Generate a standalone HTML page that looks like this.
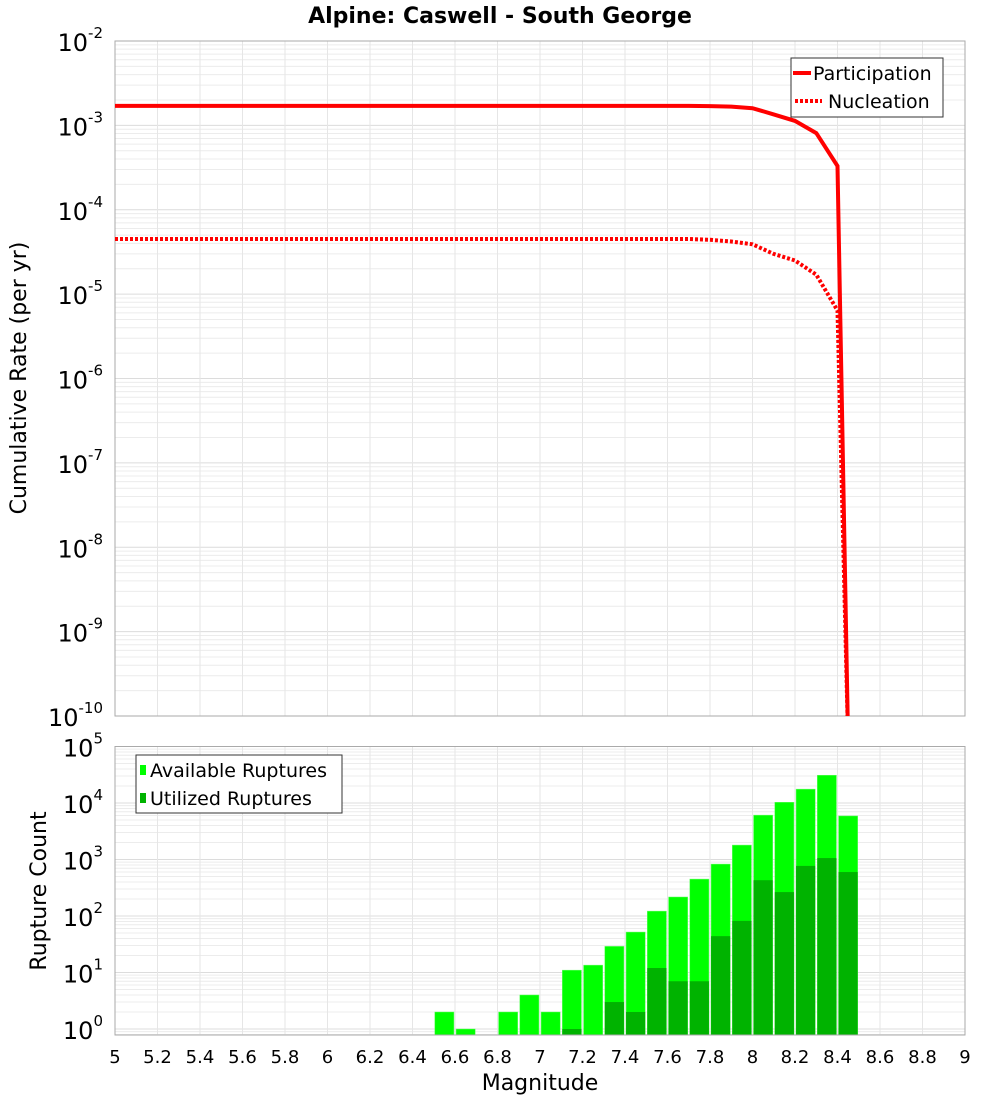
<!DOCTYPE html>
<html><head><meta charset="utf-8"><style>
body{margin:0;background:#fff;font-family:"Liberation Sans","DejaVu Sans",sans-serif}
svg text{font-family:"DejaVu Sans","Liberation Sans",sans-serif}
</style></head><body>
<svg id="c" width="1000" height="1100" xmlns="http://www.w3.org/2000/svg">
<text x="500" y="23" text-anchor="middle" font-size="22" font-weight="bold">Alpine: Caswell - South George</text>
<g id="topg"></g><g id="botg"></g>
</svg>
<script>
const mags=[5.0,5.5,6.0,6.5,7.0,7.5,7.7,7.8,7.9,8.0,8.1,8.2,8.3,8.4,8.45];
const participation=[1.7e-3,1.7e-3,1.7e-3,1.7e-3,1.7e-3,1.7e-3,1.7e-3,1.69e-3,1.67e-3,1.6e-3,1.35e-3,1.13e-3,8.1e-4,3.3e-4,5e-11];
const nucleation=[4.5e-5,4.5e-5,4.5e-5,4.5e-5,4.5e-5,4.5e-5,4.5e-5,4.4e-5,4.2e-5,3.9e-5,3.0e-5,2.5e-5,1.7e-5,6.4e-6,5e-11];
const binCenters=[6.55,6.65,6.75,6.85,6.95,7.05,7.15,7.25,7.35,7.45,7.55,7.65,7.75,7.85,7.95,8.05,8.15,8.25,8.35,8.45];
const available=[2,1,0,2,4,2,11,13.5,29,52,122,217,450,830,1800,6100,10300,17600,31000,5900];
const utilized=[0,0,0,0,0,0,1,0,3,2,12,7,7,44,82,430,265,770,1060,600];
const xTicks=[5,5.2,5.4,5.6,5.8,6,6.2,6.4,6.6,6.8,7,7.2,7.4,7.6,7.8,8,8.2,8.4,8.6,8.8,9];
const NS="http://www.w3.org/2000/svg";
const PL=115,PR=965;
const X=m=>PL+(m-5)/4*(PR-PL);
const T0=41,T1=716,B0=746.5,B1=1035;
const YT=v=>T0+(-2-Math.log10(v))*(T1-T0)/8;
const YB=v=>1029-Math.log10(v)*56.5;
function mk(p,tag,at,txt){const e=document.createElementNS(NS,tag);for(const k in at)e.setAttribute(k,at[k]);if(txt!==undefined)e.textContent=txt;p.appendChild(e);return e;}
const topG=document.getElementById('topg'),botG=document.getElementById('botg');
function grid(g,y0,y1,yf,dlo,dhi){
  for(let d=dlo;d<dhi;d++)for(let k=1;k<10;k++){const y=yf(k*Math.pow(10,d));if(y<y0-0.5||y>y1+0.5)continue;
    const l=mk(g,'line',{x1:PL,x2:PR,y1:y,y2:y,stroke:k==1?'#dcdcdc':'#ececec','stroke-width':1});
    }
  xTicks.forEach(t=>{const l=mk(g,'line',{x1:X(t),x2:X(t),y1:y0,y2:y1,stroke:'#e6e6e6','stroke-width':1});
    });
}
grid(topG,T0,T1,YT,-10,-2);
grid(botG,B0,B1,YB,-1,5);
let f=mk(topG,'rect',{x:PL,y:T0,width:PR-PL,height:T1-T0,fill:'none',stroke:'#aaa'});

for(let e=-2;e>=-10;e--){const y=YT(Math.pow(10,e));
  const t=mk(topG,'text',{x:103,y:y+10,'text-anchor':'end','font-size':24});
  
  mk(t,'tspan',{},'10');mk(t,'tspan',{dy:-13,'font-size':15},String(e));}
let yt=mk(topG,'text',{transform:'translate(26,378) rotate(-90)','text-anchor':'middle','font-size':22},'Cumulative Rate (per yr)');

const cp=document.createElementNS(NS,'clipPath');cp.setAttribute('id','cl');mk(cp,'rect',{x:PL,y:T0,width:PR-PL,height:T1-T0});topG.appendChild(cp);
function line(vals,dash,name){const d=mags.map((m,i)=>(i?'L':'M')+X(m).toFixed(1)+','+YT(vals[i]).toFixed(1)).join('');
  const p=mk(topG,'path',{d:d,fill:'none',stroke:'#ff0000','stroke-width':4,'clip-path':'url(#cl)'});
  if(dash)p.setAttribute('stroke-dasharray','3,2');
  }
line(participation,false,'participation-line');line(nucleation,true,'nucleation-line');
let lg=mk(topG,'g',{});
mk(lg,'rect',{x:791,y:58,width:152,height:59,fill:'#fff',stroke:'#333'});
mk(lg,'line',{x1:793,x2:811,y1:73,y2:73,stroke:'#f00','stroke-width':4});
mk(lg,'text',{x:813,y:80,'font-size':19},'Participation');
mk(lg,'line',{x1:795,x2:822,y1:101,y2:101,stroke:'#f00','stroke-width':4,'stroke-dasharray':'3,2'});
mk(lg,'text',{x:828,y:108,'font-size':19},'Nucleation');
binCenters.forEach((c,i)=>{const x0=X(c-0.045),w=X(c+0.045)-x0;
  if(available[i]>0){const r=mk(botG,'rect',{x:x0,y:YB(available[i]),width:w,height:B1-YB(available[i]),fill:'#00ff00',stroke:'#6f6','stroke-width':0.5});
    }
  if(utilized[i]>0){const r=mk(botG,'rect',{x:x0,y:YB(utilized[i]),width:w,height:B1-YB(utilized[i]),fill:'#00b300'});
    }
});
f=mk(botG,'rect',{x:PL,y:B0,width:PR-PL,height:B1-B0,fill:'none',stroke:'#aaa'});

for(let e=0;e<=5;e++){const y=YB(Math.pow(10,e));
  const t=mk(botG,'text',{x:103,y:y+10,'text-anchor':'end','font-size':24});
  
  mk(t,'tspan',{},'10');mk(t,'tspan',{dy:-13,'font-size':15},String(e));}
xTicks.forEach(t=>{const e=mk(botG,'text',{x:X(t),y:1063,'text-anchor':'middle','font-size':18},String(t));
  });
let xt=mk(botG,'text',{x:540,y:1090,'text-anchor':'middle','font-size':22},'Magnitude');

yt=mk(botG,'text',{transform:'translate(46,891) rotate(-90)','text-anchor':'middle','font-size':22},'Rupture Count');

lg=mk(botG,'g',{});
mk(lg,'rect',{x:136,y:755,width:206,height:58,fill:'#fff',stroke:'#333'});
mk(lg,'rect',{x:140,y:765,width:6,height:10,fill:'#00ff00'});
mk(lg,'text',{x:150,y:777,'font-size':19},'Available Ruptures');
mk(lg,'rect',{x:140,y:793,width:6,height:10,fill:'#00b300'});
mk(lg,'text',{x:150,y:805,'font-size':19},'Utilized Ruptures');
</script>
</body></html>
